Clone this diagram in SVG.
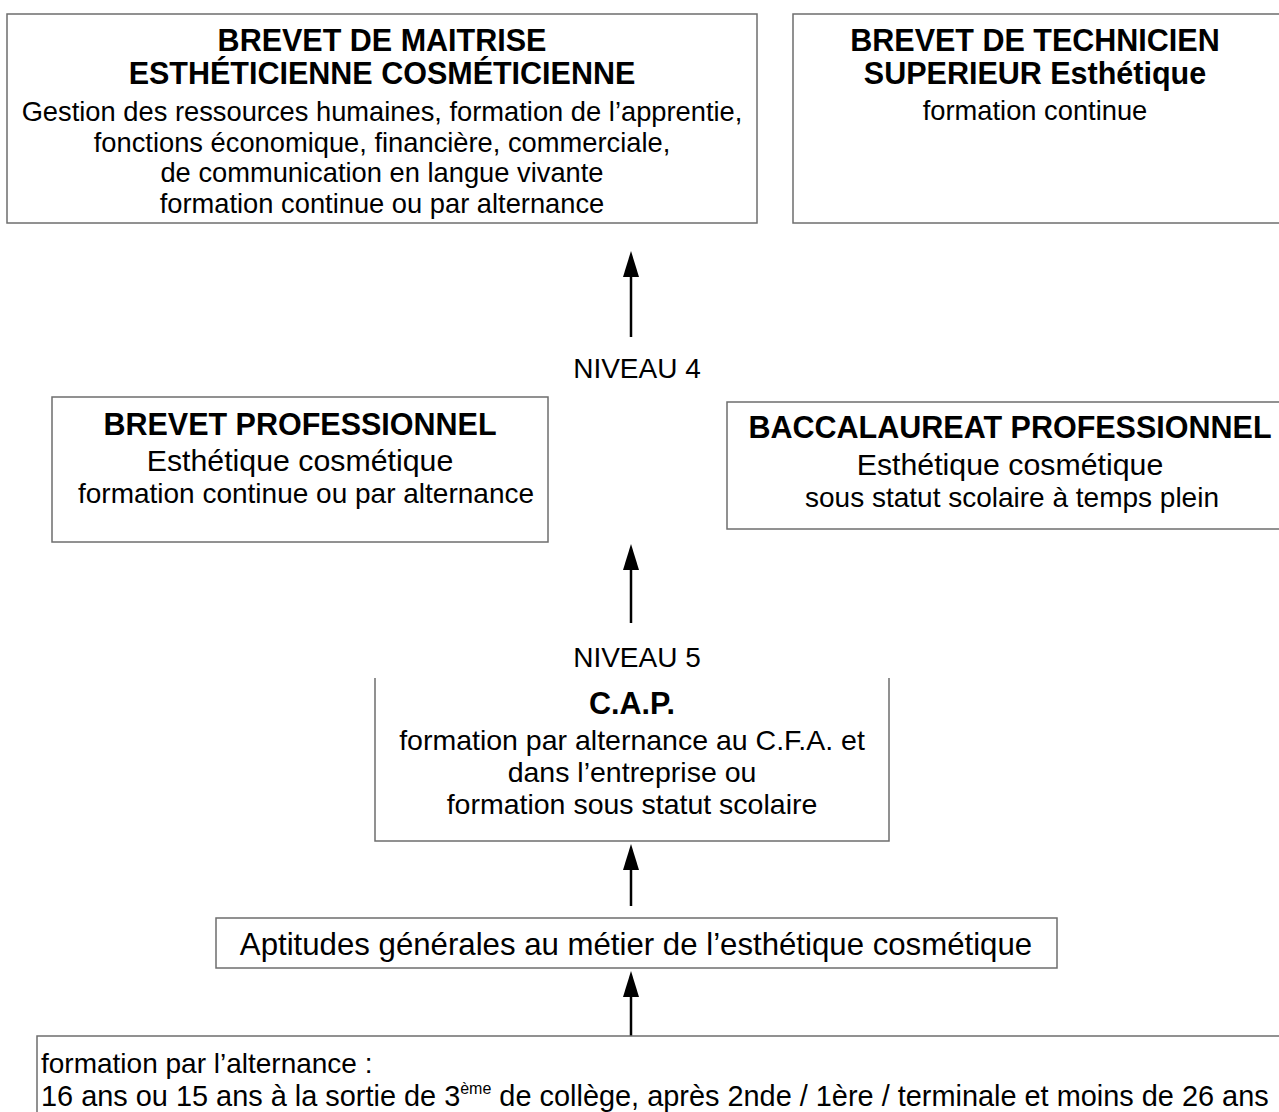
<svg xmlns="http://www.w3.org/2000/svg" width="1279" height="1112" viewBox="0 0 1279 1112">
<style>
  .box { fill: #ffffff; stroke: #6e6e6e; stroke-width: 1.5; }
  .t { font-family: "Liberation Sans", Arial, sans-serif; font-size: 28px; fill: #000; text-anchor: middle; }
  .b { font-weight: bold; font-size: 30.5px; }
  .m { font-size: 30.3px; }
  .s { font-size: 27.3px; }
  .c { font-size: 28.5px; }
  .a { font-size: 31.2px; }
  .w { font-size: 28.9px; }
  .l { text-anchor: start; }
  .sup { font-size: 16px; }
  .arrow { stroke: #000; stroke-width: 2.5; fill: none; marker-end: url(#head); }
</style>
<defs>
  <marker id="head" markerUnits="userSpaceOnUse" markerWidth="27" markerHeight="17" refX="1" refY="8" orient="auto">
    <path d="M0,0 L26,8 L0,16 Z" fill="#000"/>
  </marker>
</defs>
<rect width="1279" height="1112" fill="#ffffff"/>

<g id="connectors">
  <line class="arrow" x1="631" y1="337" x2="631" y2="276"/>
  <line class="arrow" x1="631" y1="623" x2="631" y2="569"/>
  <line class="arrow" x1="631" y1="906" x2="631" y2="869"/>
  <line class="arrow" x1="631" y1="1036" x2="631" y2="996"/>
</g>

<g id="bm">
  <rect class="box" x="7" y="14" width="750" height="209"/>
  <text class="t b" x="382" y="51">BREVET DE MAITRISE</text>
  <text class="t b" x="382" y="84">ESTHÉTICIENNE COSMÉTICIENNE</text>
  <text class="t s" x="382" y="121">Gestion des ressources humaines, formation de l’apprentie,</text>
  <text class="t s" x="382" y="152">fonctions économique, financière, commerciale,</text>
  <text class="t s" x="382" y="182">de communication en langue vivante</text>
  <text class="t s" x="382" y="213">formation continue ou par alternance</text>
</g>

<g id="bts">
  <rect class="box" x="793" y="14" width="500" height="209"/>
  <text class="t b" x="1035" y="51">BREVET DE TECHNICIEN</text>
  <text class="t b" x="1035" y="84">SUPERIEUR Esthétique</text>
  <text class="t s" x="1035" y="120">formation continue</text>
</g>

<g id="niveau4">
  <text class="t" x="637" y="378">NIVEAU 4</text>
</g>

<g id="bp">
  <rect class="box" x="52" y="397" width="496" height="145"/>
  <text class="t b" x="300" y="435">BREVET PROFESSIONNEL</text>
  <text class="t m" x="300" y="471">Esthétique cosmétique</text>
  <text class="t" x="306" y="503">formation continue ou par alternance</text>
</g>

<g id="bac">
  <rect class="box" x="727" y="402" width="570" height="127"/>
  <text class="t b" x="1010" y="438">BACCALAUREAT PROFESSIONNEL</text>
  <text class="t m" x="1010" y="475">Esthétique cosmétique</text>
  <text class="t" x="1012" y="507">sous statut scolaire à temps plein</text>
</g>

<g id="niveau5">
  <text class="t" x="637" y="667">NIVEAU 5</text>
</g>

<g id="cap">
  <path class="box" d="M375,678 V841 H889 V678"/>
  <text class="t b" x="632" y="714">C.A.P.</text>
  <text class="t c" x="632" y="750">formation par alternance au C.F.A. et</text>
  <text class="t c" x="632" y="782">dans l’entreprise ou</text>
  <text class="t c" x="632" y="814">formation sous statut scolaire</text>
</g>

<g id="aptitudes">
  <rect class="box" x="216" y="918" width="841" height="50"/>
  <text class="t a" x="636" y="955">Aptitudes générales au métier de l’esthétique cosmétique</text>
</g>

<g id="alternance">
  <rect class="box" x="37" y="1036" width="1260" height="90"/>
  <text class="t l" x="41" y="1073">formation par l’alternance :</text>
  <text class="t l w" x="41" y="1106">16 ans ou 15 ans à la sortie de 3<tspan class="sup" dy="-12">ème</tspan><tspan dy="12"> de collège, après 2nde / 1ère / terminale et moins de 26 ans</tspan></text>
</g>
</svg>
